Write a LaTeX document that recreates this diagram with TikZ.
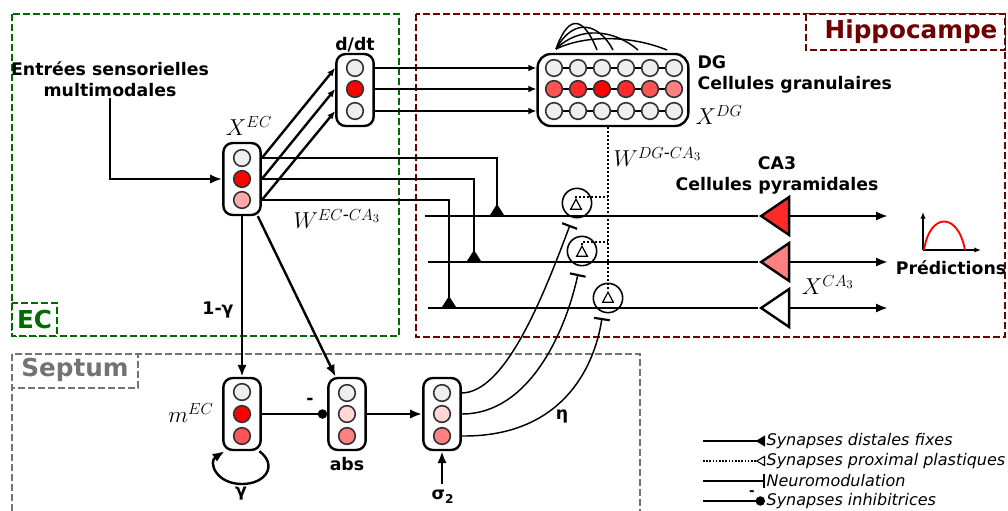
\documentclass[tikz,border=0pt]{standalone}
\usepackage{amsmath, amssymb}
\usepackage[no-math]{fontspec}
\setmainfont{DejaVu Sans}
\usepackage{tikz}
\usetikzlibrary{arrows.meta, shapes.geometric}

\definecolor{ecgreen}{RGB}{0,105,0}
\definecolor{hipred}{RGB}{110,0,0}
\definecolor{septgray}{RGB}{115,115,115}
\definecolor{cellgray}{HTML}{EEEEEE}
\definecolor{pinkA}{HTML}{FFAAAA}
\definecolor{pinkB}{HTML}{FFD5D5}
\definecolor{redA}{HTML}{FF8080}
\definecolor{redB}{HTML}{FF5555}
\definecolor{redC}{HTML}{FF2A2A}

\begin{document}
\begin{tikzpicture}[x=0.75pt,y=0.75pt,yscale=-1,xscale=1,
	col/.style={draw, line width=1.8pt, rounded corners=7pt, fill=white, minimum width=28pt, minimum height=54pt, inner sep=0pt},
	cell/.style={circle, draw=black!80, line width=1.2pt, minimum size=12.5pt, inner sep=0pt},
	lbl/.style={font=\fontsize{13}{16}\selectfont\bfseries, inner sep=1pt},
	mth/.style={font=\fontsize{18}{20}\selectfont, inner sep=1pt},
	title/.style={font=\fontsize{18.5}{22}\selectfont\bfseries, inner sep=0pt},
	leg/.style={font=\fontsize{12}{14}\selectfont\itshape, anchor=west, inner sep=1pt},
	region/.style={line width=1.5pt, dash pattern=on 5pt off 2.5pt},
	arr/.style={line width=1.8pt, -{Latex[length=9pt,width=7pt]}},
	sarr/.style={line width=1.8pt, -{Latex[length=6pt,width=5pt]}},
	distal/.style={line width=1.8pt, -{Triangle[reversed,length=9pt,width=11pt]}},
	prox/.style={line width=1.6pt, dash pattern=on 1.5pt off 1.5pt},
	neuro/.style={line width=1.1pt, -{Bar[width=12pt,line width=1.6pt]}},
	inhib/.style={line width=1.8pt, -{Circle[length=7pt]}},
	syn/.style={circle, draw, line width=1.2pt, minimum size=22pt, inner sep=0pt},
	dend/.style={isosceles triangle, isosceles triangle stretches, shape border rotate=90, draw, line width=0.9pt, minimum width=8pt, minimum height=7.5pt, inner sep=0pt},
	pyr/.style={isosceles triangle, isosceles triangle stretches, shape border rotate=180, draw, line width=1.8pt, minimum height=21pt, minimum width=28.5pt, inner sep=0pt, anchor=apex}]
	\useasboundingbox (0,0) rectangle (1008,511);
	
	%Shape: Dashed Rectangle (EC)
	\draw[region, draw=ecgreen] (12,14) rectangle (399,336);
	%Shape: Dashed Rectangle (Hippocampe)
	\draw[region, draw=hipred] (416,14) rectangle (1005,337);
	%Shape: Dashed Rectangle (Septum)
	\draw[region, draw=septgray] (12,511) -- (12,354) -- (640,354) -- (640,511);
	%Shape: Label boxes
	\draw[region, draw=ecgreen, fill=white] (12,303) rectangle (57,336);
	\draw[region, draw=hipred, fill=white] (806,14) rectangle (1005,50);
	\draw[region, draw=septgray, fill=white] (12,354) rectangle (138,388);
	
	% Text Node
	\node[title, text=ecgreen] (ectitle) at (34.5,320) {EC};
	% Text Node
	\node[title, text=hipred] (hiptitle) at (911,32) {Hippocampe};
	% Text Node
	\node[title, text=septgray] (septtitle) at (75,370) {Septum};
	
	%Shape: Column X^EC
	\node[col] (ecbox) at (242,179) {};
	\node[cell, fill=cellgray] (ec1) at (242,158) {};
	\node[cell, fill=red] (ec2) at (242,179) {};
	\node[cell, fill=pinkA] (ec3) at (242,200) {};
	%Shape: Column d/dt
	\node[col] (ddbox) at (355,90) {};
	\node[cell, fill=cellgray] (dd1) at (355,68) {};
	\node[cell, fill=red] (dd2) at (355,89) {};
	\node[cell, fill=cellgray] (dd3) at (355,111) {};
	%Shape: Rounded Rect DG
	\node[col, minimum width=113pt, rounded corners=10pt] (dgbox) at (613,90) {};
	\node[cell, fill=cellgray] (dg11) at (554,68) {};
	\node[cell, fill=cellgray] (dg12) at (578,68) {};
	\node[cell, fill=cellgray] (dg13) at (602,68) {};
	\node[cell, fill=cellgray] (dg14) at (626,68) {};
	\node[cell, fill=cellgray] (dg15) at (650,68) {};
	\node[cell, fill=cellgray] (dg16) at (674,68) {};
	\node[cell, fill=redB] (dg21) at (554,89) {};
	\node[cell, fill=redC] (dg22) at (578,89) {};
	\node[cell, fill=red] (dg23) at (602,89) {};
	\node[cell, fill=redC] (dg24) at (626,89) {};
	\node[cell, fill=redB] (dg25) at (650,89) {};
	\node[cell, fill=redA] (dg26) at (674,89) {};
	\node[cell, fill=cellgray] (dg31) at (554,111) {};
	\node[cell, fill=cellgray] (dg32) at (578,111) {};
	\node[cell, fill=cellgray] (dg33) at (602,111) {};
	\node[cell, fill=cellgray] (dg34) at (626,111) {};
	\node[cell, fill=cellgray] (dg35) at (650,111) {};
	\node[cell, fill=cellgray] (dg36) at (674,111) {};
	%Straight Lines DG rows
	\draw[line width=1.6pt] (dg11) -- (dg12) -- (dg13) -- (dg14) -- (dg15) -- (dg16);
	\draw[line width=1.6pt] (dg21) -- (dg22) -- (dg23) -- (dg24) -- (dg25) -- (dg26);
	\draw[line width=1.6pt] (dg31) -- (dg32) -- (dg33) -- (dg34) -- (dg35) -- (dg36);
	%Curve Lines DG recurrent
	\coordinate (dgrec) at (556,49);
	\draw[line width=1.1pt] (dgrec) .. controls (570,10) and (585,20) .. (597,50);
	\draw[line width=1.1pt] (dgrec) .. controls (575,15) and (600,25) .. (613,50);
	\draw[line width=1.1pt] (dgrec) .. controls (580,25) and (615,30) .. (638,50);
	\draw[line width=1.1pt] (dgrec) .. controls (585,35) and (630,35) .. (667,50);
	
	%Shape: Column m^EC
	\node[col] (mecbox) at (242,414) {};
	\node[cell, fill=cellgray] (mec1) at (242,392) {};
	\node[cell, fill=red] (mec2) at (242,414) {};
	\node[cell, fill=redB] (mec3) at (242,436) {};
	%Shape: Column abs
	\node[col] (absbox) at (347,414) {};
	\node[cell, fill=cellgray] (abs1) at (347,393) {};
	\node[cell, fill=pinkB] (abs2) at (347,414) {};
	\node[cell, fill=redA] (abs3) at (347,436) {};
	%Shape: Column sigma
	\node[col] (sgbox) at (442,414) {};
	\node[cell, fill=cellgray] (sg1) at (442,393) {};
	\node[cell, fill=pinkB] (sg2) at (442,414) {};
	\node[cell, fill=redA] (sg3) at (442,436) {};
	
	%Shape: CA3 pyramidal cells
	\node[pyr, fill=redC] (p1) at (758,216) {};
	\node[pyr, fill=redA] (p2) at (758,262) {};
	\node[pyr, fill=white] (p3) at (758,308) {};
	\coordinate (in1) at (425,216);
	\coordinate (in2) at (428,262);
	\coordinate (in3) at (428,308);
	\coordinate (out1) at (888,216);
	\coordinate (out2) at (888,262);
	\coordinate (out3) at (888,308);
	\draw[line width=1.8pt] (in1) -- (p1.apex);
	\draw[line width=1.8pt] (in2) -- (p2.apex);
	\draw[line width=1.8pt] (in3) -- (p3.apex);
	\draw[arr] (p1.lower side) -- (out1);
	\draw[arr] (p2.lower side) -- (out2);
	\draw[arr] (p3.lower side) -- (out3);
	
	%Shape: proximal synapses
	\node[syn] (s1) at (577,203) {};
	\node[dend] (t1) at (576,206) {};
	\node[syn] (s2) at (582,251) {};
	\node[dend] (t2) at (582,253) {};
	\node[syn] (s3) at (608,298) {};
	\node[dend] (t3) at (608,299) {};
	\coordinate (b1) at (608,197);
	\coordinate (b2) at (608,242);
	\draw[prox] (dgbox.south -| t3.apex) -- (t3.apex);
	\draw[prox] (t1.apex) |- (b1);
	\draw[prox] (t2.apex) |- (b2);
	
	%Straight Lines inputs
	\node[lbl, align=center] (inp) at (110,79) {Entrées sensorielles\\multimodales};
	\draw[arr] (inp.south) |- (ecbox.west |- ec2);
	\draw[sarr] (ecbox.east |- ec1) -- (ddbox.west |- dd1);
	\draw[sarr] (ecbox.east |- ec2) -- (ddbox.west |- dd2);
	\draw[sarr] (ecbox.east |- ec3) -- (ddbox.west |- dd3);
	\draw[sarr] (ddbox.east |- dd1) -- (dgbox.west |- dd1);
	\draw[sarr] (ddbox.east |- dd2) -- (dgbox.west |- dd2);
	\draw[sarr] (ddbox.east |- dd3) -- (dgbox.west |- dd3);
	%Straight Lines EC to CA3
	\coordinate (d1) at (497,216);
	\coordinate (d2) at (474,262);
	\coordinate (d3) at (449,308);
	\draw[distal] (ecbox.east |- ec1) -| (d1);
	\draw[distal] (ecbox.east |- ec2) -| (d2);
	\draw[distal] (ecbox.east |- ec3) -| (d3);
	%Straight Lines EC to Septum
	\draw[arr] (ecbox.south) -- (mecbox.north);
	\draw[arr] (ecbox.-67) -- (absbox.107);
	\draw[inhib] (mecbox.east) -- (absbox.west);
	\draw[arr] (absbox.east) -- (sgbox.west);
	\coordinate (sgin) at (442,484);
	\draw[arr] (sgin) -- (sgbox.south);
	%Curve Lines self loop
	\draw[arr] (mecbox.-65) .. controls (278,465) and (266,484) .. (242,484) .. controls (216,484) and (208,462) .. (mecbox.-115);
	%Curve Lines neuromodulation
	\coordinate (nm1) at (570,225);
	\coordinate (nm2) at (578,274);
	\coordinate (nm3) at (602,318);
	\draw[neuro] (sgbox.east |- sg1) .. controls (505,392) and (542,300) .. (nm1);
	\draw[neuro] (sgbox.east |- sg2) .. controls (530,414) and (566,330) .. (nm2);
	\draw[neuro] (sgbox.east |- sg3) .. controls (560,437) and (594,370) .. (nm3);
	
	%Shape: prediction plot
	\coordinate (po) at (923,250);
	\draw[line width=1pt, -{Latex[length=5pt,width=4pt]}] (po) -- (923,212);
	\draw[line width=1pt, -{Latex[length=5pt,width=4pt]}] (po) -- (981,250);
	\draw[red, line width=1.4pt] (924,250) .. controls (930,212) and (958,212) .. (965,250);
	
	% Text Node
	\node[lbl] (ddlbl) at (355,45) {d/dt};
	% Text Node
	\node[mth] (xec) at (249,126) {$X^{EC}$};
	% Text Node
	\node[mth] (wec) at (337,219) {$W^{EC\text{-}CA_3}$};
	% Text Node
	\node[lbl, anchor=west] (dglbl) at (696,62) {DG};
	% Text Node
	\node[lbl, anchor=west] (gran) at (696,85) {Cellules granulaires};
	% Text Node
	\node[mth, anchor=west] (xdg) at (694,115) {$X^{DG}$};
	% Text Node
	\node[mth, anchor=west] (wdg) at (612,157) {$W^{DG\text{-}CA_3}$};
	% Text Node
	\node[lbl] (ca3lbl) at (777,163) {CA3};
	% Text Node
	\node[lbl] (pyrlbl) at (777,186) {Cellules pyramidales};
	% Text Node
	\node[mth] (xca3) at (828,285) {$X^{CA_3}$};
	% Text Node
	\node[lbl] (pred) at (951,268) {Prédictions};
	% Text Node
	\node[lbl] (gam1) at (218,310) {1-γ};
	% Text Node
	\node[mth] (mecl) at (191,413) {$m^{EC}$};
	% Text Node
	\node[lbl] (gam) at (241,494) {γ};
	% Text Node
	\node[lbl] (abslbl) at (347,464) {abs};
	% Text Node
	\node[lbl] (sig) at (443,497) {σ\textsubscript{2}};
	% Text Node
	\node[lbl] (eta) at (562,416) {η};
	% Text Node
	\node[lbl] (minus) at (310,401) {-};
	
	%Legend
	\node[leg] (leg1) at (765,441) {Synapses distales fixes};
	\node[leg] (leg2) at (765,461) {Synapses proximal plastiques};
	\node[leg] (leg3) at (765,481) {Neuromodulation};
	\node[leg] (leg4) at (765,501) {Synapses inhibitrices};
	\coordinate (lg1) at (703,441);
	\coordinate (lg2) at (703,461);
	\coordinate (lg3) at (703,481);
	\coordinate (lg4) at (703,501);
	\draw[line width=1.6pt, -{Triangle[reversed,length=7pt,width=8pt]}] (lg1) -- (leg1.west);
	\draw[line width=1.2pt, dash pattern=on 1.2pt off 1.2pt, -{Triangle[open,reversed,length=7pt,width=8pt,line width=0.8pt]}] (lg2) -- (leg2.west);
	\draw[line width=1pt, -{Bar[width=11pt,line width=1.2pt]}] (lg3) -- (leg3.west);
	\draw[inhib] (lg4) -- (leg4.west);
	\node[lbl, font=\fontsize{10}{12}\selectfont\bfseries] (minus2) at (752,493) {-};
\end{tikzpicture}
\end{document}
